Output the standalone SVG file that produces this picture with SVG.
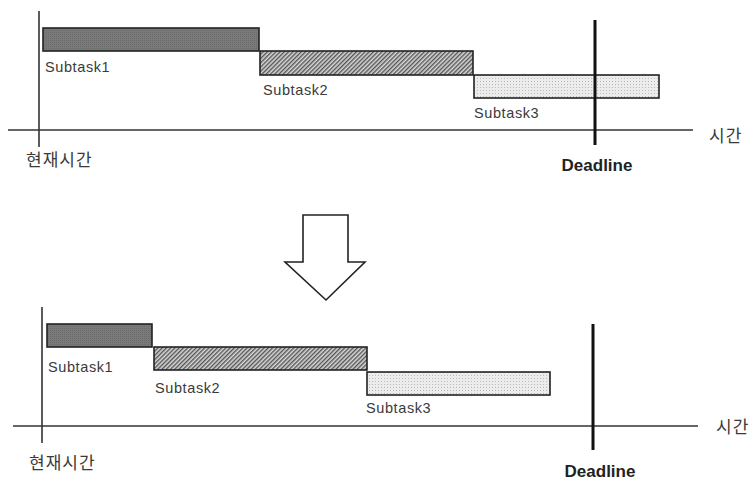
<svg xmlns="http://www.w3.org/2000/svg" width="756" height="481" viewBox="0 0 756 481">
<defs>
<pattern id="dark" width="2" height="2" patternUnits="userSpaceOnUse">
<rect width="2" height="2" fill="#7a7a7a"/>
<rect width="1" height="1" fill="#6a6a6a"/>
</pattern>
<pattern id="hatch" width="3" height="3" patternUnits="userSpaceOnUse" patternTransform="rotate(45)">
<rect width="3" height="3" fill="#d8d8d8"/>
<rect width="1.4" height="3" fill="#555"/>
</pattern>
<pattern id="dots" width="3" height="3" patternUnits="userSpaceOnUse">
<rect width="3" height="3" fill="#ececec"/>
<rect width="1" height="1" fill="#b8b8b8"/>
</pattern>
</defs>
<style>
.bar{stroke:#222;stroke-width:1.6}
.lbl{font-family:"Liberation Sans",Arial,sans-serif;font-size:14.5px;letter-spacing:0.6px;fill:#3a3a3a}
.kr{font-family:"Noto Sans CJK KR","Noto Sans",sans-serif;font-size:17px;letter-spacing:1px;fill:#3a3a3a}
.dl{font-family:"Liberation Sans",Arial,sans-serif;font-size:17px;font-weight:bold;fill:#222;text-anchor:middle}
.axis{stroke:#333;stroke-width:1.6;fill:none}
.dead{stroke:#111;stroke-width:3;fill:none}
</style>
<rect width="756" height="481" fill="#fff"/>

<g id="connectors">
<line class="axis" x1="8" y1="130" x2="693" y2="130"/>
<line class="axis" x1="39" y1="11" x2="39" y2="147"/>
<line class="axis" x1="13" y1="426" x2="698" y2="426"/>
<line class="axis" x1="42" y1="307" x2="42" y2="443"/>
</g>

<g id="top-subtask1">
<rect class="bar" x="43" y="28" width="216" height="23" fill="url(#dark)"/>
<text class="lbl" x="45" y="72">Subtask1</text>
</g>
<g id="top-subtask2">
<rect class="bar" x="260" y="51" width="213" height="24" fill="url(#hatch)"/>
<text class="lbl" x="263" y="95">Subtask2</text>
</g>
<g id="top-subtask3">
<rect class="bar" x="474" y="75" width="185" height="23" fill="url(#dots)"/>
<text class="lbl" x="474" y="118">Subtask3</text>
</g>
<g id="top-deadline">
<line class="dead" x1="595" y1="20" x2="595" y2="145"/>
<text class="dl" x="597" y="171">Deadline</text>
</g>
<g id="top-labels">
<text class="kr" x="709" y="142">시간</text>
<text class="kr" x="26" y="166">현재시간</text>
</g>

<g id="arrow">
<polygon points="303,215 348,215 348,262 365,262 326,300 285,262 303,262" fill="#fff" stroke="#222" stroke-width="1.6"/>
</g>

<g id="bottom-subtask1">
<rect class="bar" x="47" y="324" width="105" height="23" fill="url(#dark)"/>
<text class="lbl" x="48" y="372">Subtask1</text>
</g>
<g id="bottom-subtask2">
<rect class="bar" x="154" y="347" width="213" height="23" fill="url(#hatch)"/>
<text class="lbl" x="155" y="393">Subtask2</text>
</g>
<g id="bottom-subtask3">
<rect class="bar" x="367" y="372" width="183" height="23" fill="url(#dots)"/>
<text class="lbl" x="366" y="413">Subtask3</text>
</g>
<g id="bottom-deadline">
<line class="dead" x1="593" y1="324" x2="593" y2="450"/>
<text class="dl" x="600" y="477">Deadline</text>
</g>
<g id="bottom-labels">
<text class="kr" x="716" y="433">시간</text>
<text class="kr" x="29" y="469">현재시간</text>
</g>
</svg>
